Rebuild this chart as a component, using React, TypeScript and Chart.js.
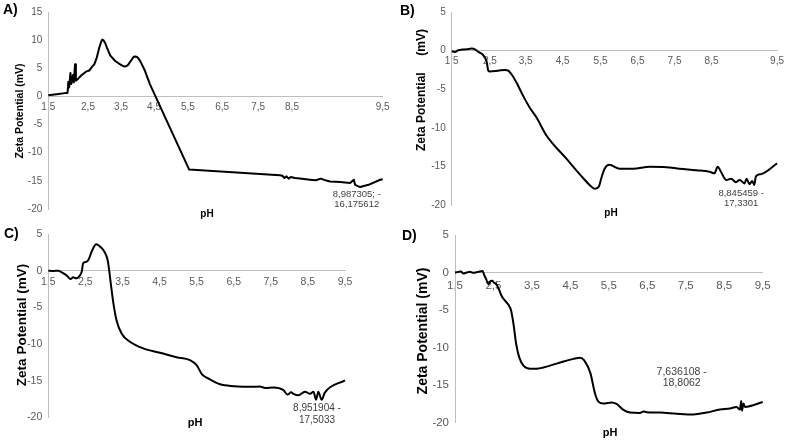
import React, { useEffect, useRef } from "react";
import { Chart, registerables } from "chart.js";

Chart.register(...registerables);

const W = 789;
const H = 442;
const SANS = '"Liberation Sans", Arial, sans-serif';
const AXIS_COLOR = "#bfbfbf";
const TICK_COLOR = "#595959";
const NOTE_COLOR = "#404040";

// ---- x tick labels (same for all panels) ----
const xTickLabels = ["1,5", "2,5", "3,5", "4,5", "5,5", "6,5", "7,5", "8,5", "9,5"];
// tick positions along each x axis (panels A and B have an uneven axis in the source)
const xTickPosA = [1.5, 2.45, 3.24, 4.03, 4.84, 5.66, 6.52, 7.33, 9.5];
const xTickPosB = [1.5, 2.44, 3.32, 4.23, 5.16, 6.07, 6.98, 7.89, 9.5];
const xTickPosC = [1.5, 2.5, 3.5, 4.5, 5.5, 6.5, 7.5, 8.5, 9.5];
const xTickPosD = [1.5, 2.5, 3.5, 4.5, 5.5, 6.5, 7.5, 8.5, 9.5];

// ---- panel A ----
const phA = [1.5, 1.7, 1.94, 1.96, 1.98, 2.0, 2.03, 2.05, 2.09, 2.11, 2.14, 2.16, 2.22, 2.3, 2.4, 2.48, 2.54, 2.6, 2.66, 2.72, 2.76, 2.79, 2.82, 2.86, 2.9, 2.98, 3.1, 3.22, 3.29, 3.33, 3.37, 3.41, 3.5, 3.54, 3.57, 3.61, 3.64, 3.69, 3.81, 3.93, 4.87, 7.04, 7.1, 7.15, 7.2, 7.25, 7.3, 7.4, 7.52, 7.76, 7.9, 8.02, 8.15, 8.24, 8.48, 8.72, 8.81, 8.84, 8.96, 9.16, 9.44, 9.5];
const zetaA = [0.2, 0.4, 0.63, 0.63, 2.6, 1.6, 4.15, 2.2, 3.8, 2.5, 5.7, 2.8, 3.2, 3.8, 4.4, 4.6, 5.2, 5.7, 6.9, 8.7, 9.6, 10.1, 10.0, 9.5, 8.7, 7.3, 6.3, 5.7, 5.4, 5.3, 5.4, 5.6, 6.6, 7.0, 7.1, 7.05, 6.9, 6.4, 4.6, 2.2, -13.0, -14.0, -14.1, -14.5, -14.2, -14.6, -14.3, -14.5, -14.6, -14.8, -14.9, -14.6, -14.95, -15.1, -15.2, -15.4, -14.8, -15.7, -16.1, -15.7, -14.8, -14.7];
const noteA = { x: 8.987305, y: -16.175612, lines: ["8,987305; -", "16,175612"] };

// ---- panel B ----
const phB = [1.5, 1.58, 1.66, 1.75, 1.87, 1.99, 2.07, 2.13, 2.19, 2.26, 2.32, 2.36, 2.4, 2.44, 2.64, 2.81, 2.89, 2.97, 3.1, 3.26, 3.42, 3.59, 3.83, 4.32, 4.73, 4.89, 5.02, 5.12, 5.18, 5.26, 5.38, 5.63, 5.96, 6.37, 6.78, 7.1, 7.51, 7.84, 7.96, 8.04, 8.13, 8.25, 8.37, 8.49, 8.58, 8.7, 8.75, 8.82, 8.89, 8.94, 8.98, 9.11, 9.5];
const zetaB = [-0.08, -0.17, 0.04, 0.13, 0.17, 0.26, 0.17, -0.08, -0.26, -0.5, -0.94, -1.45, -2.6, -2.7, -2.6, -2.5, -2.6, -3.06, -4.2, -5.9, -7.4, -8.7, -11.0, -14.0, -16.5, -17.4, -17.9, -17.6, -16.5, -15.3, -14.8, -15.3, -15.3, -15.05, -15.1, -15.3, -15.5, -15.7, -15.9, -15.05, -15.8, -16.75, -16.6, -17.05, -16.75, -17.2, -16.6, -17.3, -16.9, -17.4, -16.3, -16.0, -14.6];
const noteB = { x: 8.845459, y: -17.3301, lines: ["8,845459 -", "17,3301"] };

// ---- panel C ----
const phC = [1.5, 1.63, 1.77, 1.86, 2.0, 2.1, 2.17, 2.25, 2.34, 2.4, 2.44, 2.52, 2.58, 2.67, 2.79, 2.89, 3.01, 3.1, 3.14, 3.19, 3.26, 3.34, 3.48, 3.7, 4.06, 4.51, 4.96, 5.32, 5.5, 5.64, 5.81, 6.13, 6.5, 7.0, 7.2, 7.35, 7.57, 7.84, 7.95, 8.05, 8.11, 8.24, 8.42, 8.56, 8.65, 8.72, 8.78, 8.87, 8.96, 9.5];
const zetaC = [0, -0.05, 0, -0.23, -0.68, -1.14, -0.91, -1.05, -0.73, -0.14, 1.0, 1.2, 1.45, 2.6, 3.6, 3.3, 2.6, 1.45, 0.1, -1.96, -4.6, -6.8, -8.6, -9.7, -10.6, -11.2, -11.8, -12.2, -12.9, -14.1, -14.7, -15.5, -15.75, -15.85, -15.8, -16.0, -15.95, -16.3, -16.9, -16.6, -16.8, -17.0, -16.5, -16.8, -16.5, -17.6, -16.5, -17.6, -16.6, -14.95];
const noteC = { x: 8.951904, y: -17.5033, lines: ["8,951904 -", "17,5033"] };

// ---- panel D ----
const phD = [1.5, 1.59, 1.65, 1.72, 1.8, 1.89, 1.98, 2.06, 2.15, 2.22, 2.25, 2.31, 2.37, 2.41, 2.47, 2.51, 2.57, 2.63, 2.71, 2.8, 2.89, 2.96, 3.02, 3.09, 3.17, 3.28, 3.45, 3.62, 3.97, 4.32, 4.58, 4.75, 4.86, 5.02, 5.14, 5.23, 5.36, 5.57, 5.7, 5.88, 6.05, 6.31, 6.4, 6.48, 6.83, 7.26, 7.7, 8.04, 8.39, 8.65, 8.82, 8.91, 8.94, 8.96, 9.0, 9.04, 9.5];
const zetaD = [0, 0.09, 0.13, -0.13, 0, 0.09, -0.04, 0.04, 0.13, 0.22, -0.22, -0.88, -1.55, -1.2, -1.1, -1.33, -1.55, -2.07, -3.1, -3.75, -4.3, -5.1, -6.85, -9.5, -11.3, -12.4, -12.8, -12.8, -12.4, -11.85, -11.5, -11.35, -11.7, -13.4, -16.1, -17.2, -17.45, -17.3, -17.5, -18.3, -18.65, -18.7, -18.5, -18.6, -18.65, -18.8, -18.9, -18.65, -18.25, -18.1, -17.9, -18.25, -17.1, -18.4, -17.45, -17.9, -17.25];
const noteD = { x: 7.636108, y: -18.8062, lines: ["7,636108 -", "18,8062"] };

type Note = { x: number; y: number; lines: string[] };
type Panel = {
  id: string;
  ph: number[];
  zeta: number[];
  ticks: number[];
  smooth: boolean;
  yMin: number;
  yMax: number;
  note: Note;
  noteDx: number;
  noteDy: number;
  noteGap: number;
  noteSize: number;
  area: { left: number; right: number; top: number; bottom: number };
  yTitle: string;
  yTitleSize: number;
  yTitleX: number;
  yTitleY: number;
  pHX: number;
  pHY: number;
  pHSize: number;
  tickSize: number;
  xTickPad: number;
  yTickPad: number;
};

const panels: Panel[] = [
  {
    id: "A", ph: phA, zeta: zetaA, ticks: xTickPosA, smooth: false, yMin: -20, yMax: 15, note: noteA,
    noteDx: -4.5, noteDy: 7, noteGap: 10, noteSize: 9.5,
    area: { left: 48.3, right: 382.7, top: 10, bottom: 209 },
    yTitle: "Zeta Potential (mV)", yTitleSize: 10.5, yTitleX: 20, yTitleY: 111,
    pHX: 207, pHY: 214.3, pHSize: 10, tickSize: 10, xTickPad: 5, yTickPad: 6,
  },
  {
    id: "B", ph: phB, zeta: zetaB, ticks: xTickPosB, smooth: true, yMin: -20, yMax: 5, note: noteB,
    noteDx: -9.3, noteDy: 9, noteGap: 10, noteSize: 9.5,
    area: { left: 451.7, right: 777.7, top: 9, bottom: 205 },
    yTitle: "Zeta Potential     (mV)", yTitleSize: 12, yTitleX: 421.7, yTitleY: 90,
    pHX: 611, pHY: 213.3, pHSize: 10, tickSize: 10, xTickPad: 5, yTickPad: 6,
  },
  {
    id: "C", ph: phC, zeta: zetaC, ticks: xTickPosC, smooth: true, yMin: -20, yMax: 5, note: noteC,
    noteDx: -7.7, noteDy: 9.5, noteGap: 12, noteSize: 10,
    area: { left: 48.3, right: 345, top: 234, bottom: 417.3 },
    yTitle: "Zeta Potential (mV)", yTitleSize: 13.5, yTitleX: 22.7, yTitleY: 325,
    pHX: 195, pHY: 423.3, pHSize: 11, tickSize: 10.5, xTickPad: 5, yTickPad: 6,
  },
  {
    id: "D", ph: phD, zeta: zetaD, ticks: xTickPosD, smooth: true, yMin: -20, yMax: 5, note: noteD,
    noteDx: -9.3, noteDy: -41.8, noteGap: 11.3, noteSize: 10.5,
    area: { left: 455, right: 762.7, top: 235, bottom: 422.7 },
    yTitle: "Zeta Potential (mV)", yTitleSize: 14, yTitleX: 423, yTitleY: 331,
    pHX: 610, pHY: 433.3, pHSize: 11, tickSize: 11.5, xTickPad: 6, yTickPad: 6,
  },
];

const letters = [
  { t: "A)", left: 3, top: 2 },
  { t: "B)", left: 400, top: 3 },
  { t: "C)", left: 4, top: 226 },
  { t: "D)", left: 402, top: 228 },
];

// data label next to the marked point
const notePlugin = {
  id: "pointNote",
  afterDatasetsDraw(chart: any, _args: any, opts: any) {
    if (!opts || !opts.lines) return;
    const { ctx, scales } = chart;
    const px = scales.x.getPixelForValue(opts.x) + opts.dx;
    const py = scales.y.getPixelForValue(opts.y) + opts.dy;
    ctx.save();
    ctx.font = `${opts.size}px ${SANS}`;
    ctx.fillStyle = NOTE_COLOR;
    ctx.textAlign = "center";
    ctx.textBaseline = "middle";
    opts.lines.forEach((t: string, i: number) => ctx.fillText(t, px, py + i * opts.gap));
    ctx.restore();
  },
};

// axis titles (y title rotated, x title "pH")
const titlePlugin = {
  id: "axisTitles",
  afterDraw(chart: any, _args: any, opts: any) {
    if (!opts || !opts.yText) return;
    const ctx = chart.ctx;
    ctx.save();
    ctx.fillStyle = "#000000";
    ctx.textAlign = "center";
    ctx.textBaseline = "middle";
    ctx.font = `bold ${opts.ySize}px ${SANS}`;
    ctx.translate(opts.yX, opts.yY);
    ctx.rotate(-Math.PI / 2);
    ctx.fillText(opts.yText, 0, 0);
    ctx.restore();
    ctx.save();
    ctx.fillStyle = "#000000";
    ctx.textAlign = "center";
    ctx.textBaseline = "middle";
    ctx.font = `bold ${opts.xSize}px ${SANS}`;
    ctx.fillText(opts.xText, opts.xX, opts.xY);
    ctx.restore();
  },
};

function buildConfig(p: Panel): any {
  return {
    type: "scatter",
    data: {
      datasets: [
        {
          data: p.ph.map((x, i) => ({ x, y: p.zeta[i] })),
          showLine: true,
          borderColor: "#000000",
          borderWidth: 2,
          borderJoinStyle: "round",
          pointRadius: 0,
          tension: 0,
          cubicInterpolationMode: p.smooth ? "monotone" : "default",
          xAxisID: "x",
          yAxisID: "y",
          clip: false,
        },
      ],
    },
    options: {
      animation: false,
      responsive: false,
      events: [],
      layout: {
        padding: {
          left: 0,
          top: p.area.top,
          right: W - p.area.right,
          bottom: H - p.area.bottom,
        },
      },
      plugins: {
        legend: { display: false },
        tooltip: { enabled: false },
        pointNote: {
          x: p.note.x, y: p.note.y, lines: p.note.lines,
          dx: p.noteDx, dy: p.noteDy, gap: p.noteGap, size: p.noteSize,
        },
        axisTitles: {
          yText: p.yTitle, ySize: p.yTitleSize, yX: p.yTitleX, yY: p.yTitleY,
          xText: "pH", xSize: p.pHSize, xX: p.pHX, xY: p.pHY,
        },
      },
      scales: {
        x: {
          type: "linear",
          min: 1.5,
          max: 9.5,
          position: { y: 0 },
          grid: { display: false, drawTicks: false },
          border: { display: true, color: AXIS_COLOR, width: 1 },
          ticks: {
            autoSkip: false,
            maxRotation: 0,
            padding: p.xTickPad,
            color: TICK_COLOR,
            font: { family: SANS, size: p.tickSize },
            callback: (_v: any, i: number) => xTickLabels[i],
          },
          afterBuildTicks: (s: any) => {
            s.ticks = p.ticks.map((v) => ({ value: v }));
          },
          afterFit: (s: any) => {
            s.height = 0;
          },
        },
        y: {
          type: "linear",
          position: "left",
          min: p.yMin,
          max: p.yMax,
          grid: { display: false, drawTicks: false },
          border: { display: true, color: AXIS_COLOR, width: 1 },
          ticks: {
            stepSize: 5,
            padding: p.yTickPad,
            color: TICK_COLOR,
            font: { family: SANS, size: p.tickSize },
          },
          afterFit: (s: any) => {
            s.width = p.area.left;
          },
        },
      },
    },
    plugins: [notePlugin, titlePlugin],
  };
}

function PanelChart({ p }: { p: Panel }) {
  const ref = useRef<HTMLCanvasElement>(null);
  useEffect(() => {
    if (!ref.current) return;
    const chart = new Chart(ref.current, buildConfig(p));
    return () => chart.destroy();
  }, [p]);
  return (
    <canvas
      ref={ref}
      width={W}
      height={H}
      style={{ position: "absolute", left: 0, top: 0, width: W, height: H }}
    />
  );
}

export default function App() {
  return (
    <div
      style={{
        position: "fixed",
        left: 0,
        top: 0,
        width: W,
        height: H,
        background: "#ffffff",
        overflow: "hidden",
      }}
    >
      {panels.map((p) => (
        <PanelChart key={p.id} p={p} />
      ))}
      {letters.map((l) => (
        <div
          key={l.t}
          style={{
            position: "absolute",
            left: l.left,
            top: l.top,
            font: `bold 14px ${SANS}`,
            lineHeight: "14px",
            color: "#000",
          }}
        >
          {l.t}
        </div>
      ))}
    </div>
  );
}
